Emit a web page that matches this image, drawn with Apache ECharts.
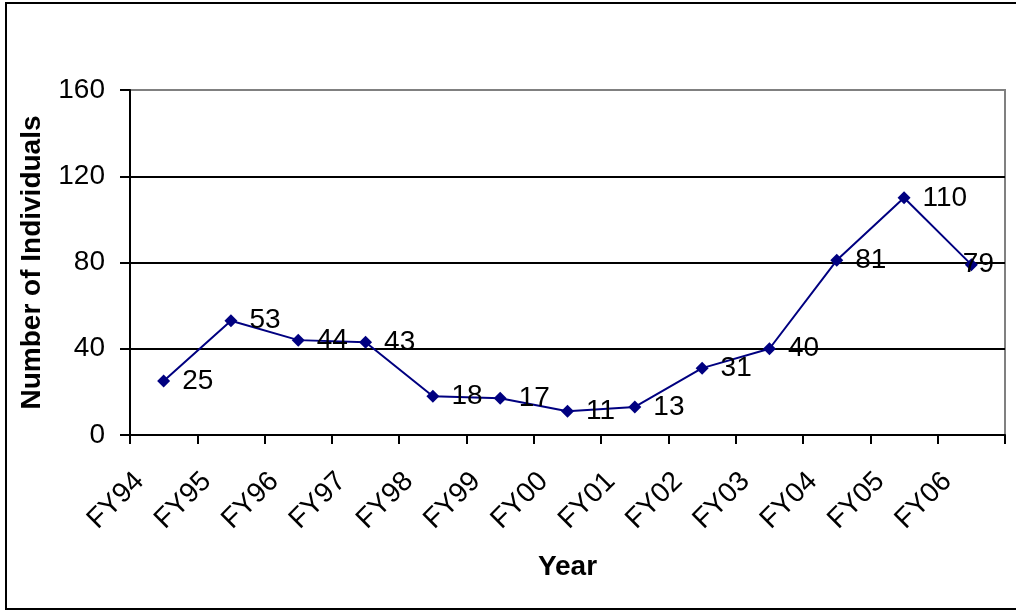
<!DOCTYPE html>
<html>
<head>
<meta charset="utf-8">
<script src="https://cdn.jsdelivr.net/npm/echarts@6/dist/echarts.min.js"></script>
<style>
html,body{margin:0;padding:0;background:#fff;}
#chart{width:1016px;height:612px;}
</style>
</head>
<body>
<div id="chart"></div>
<script>
const categories = ['FY94','FY95','FY96','FY97','FY98','FY99','FY00','FY01','FY02','FY03','FY04','FY05','FY06'];
const values = [25, 53, 44, 43, 18, 17, 11, 13, 31, 40, 81, 110, 79];
const yTicks = [0, 40, 80, 120, 160];
const xTitle = 'Year';
const yTitle = 'Number of Individuals';

const FONT = 'Arial, "Liberation Sans", sans-serif';
const seriesData = values.map((v, i) => i === values.length - 1
  ? {value: v, label: {distance: -15}}
  : v);

const chart = echarts.init(document.getElementById('chart'), null, {renderer: 'canvas'});
chart.setOption({
  animation: false,
  backgroundColor: '#fff',
  graphic: [{
    type: 'rect',
    shape: {x: 6, y: 3, width: 1030, height: 606},
    style: {fill: 'none', stroke: '#000', lineWidth: 2},
    silent: true
  }],
  grid: {
    left: 130, top: 90, right: 11, bottom: 177,
    show: true, borderColor: '#808080', borderWidth: 2, backgroundColor: 'transparent'
  },
  xAxis: {
    type: 'category',
    data: categories,
    boundaryGap: true,
    name: xTitle,
    nameLocation: 'middle',
    nameGap: 118,
    nameTextStyle: {fontFamily: FONT, fontSize: 28, fontWeight: 'bold', color: '#000'},
    axisLine: {lineStyle: {color: '#000', width: 2}},
    axisTick: {show: true, length: 9, alignWithLabel: false, lineStyle: {color: '#000', width: 2}},
    axisLabel: {
      rotate: 45, interval: 0, margin: 18, padding: [0, 34, 0, 0],
      fontFamily: FONT, fontSize: 28, color: '#000'
    },
    splitLine: {show: false}
  },
  yAxis: {
    type: 'value',
    min: yTicks[0], max: yTicks[yTicks.length - 1], interval: 40,
    name: yTitle,
    nameLocation: 'middle',
    nameRotate: 90,
    nameGap: 84,
    nameTextStyle: {fontFamily: FONT, fontSize: 28, fontWeight: 'bold', color: '#000'},
    axisLine: {show: true, lineStyle: {color: '#000', width: 2}},
    axisTick: {show: true, length: 10, lineStyle: {color: '#000', width: 2}},
    axisLabel: {margin: 25, fontFamily: FONT, fontSize: 28, color: '#000'},
    splitLine: {show: true, lineStyle: {color: ['#000', '#000', '#000', '#000', '#808080'], width: 2}}
  },
  series: [{
    type: 'line',
    data: seriesData,
    symbol: 'diamond',
    symbolSize: 13,
    lineStyle: {color: '#000080', width: 2},
    itemStyle: {color: '#000080'},
    label: {
      show: true, position: 'right', distance: 12,
      fontFamily: FONT, fontSize: 28, color: '#000'
    },
    z: 5
  }]
});
</script>
</body>
</html>
